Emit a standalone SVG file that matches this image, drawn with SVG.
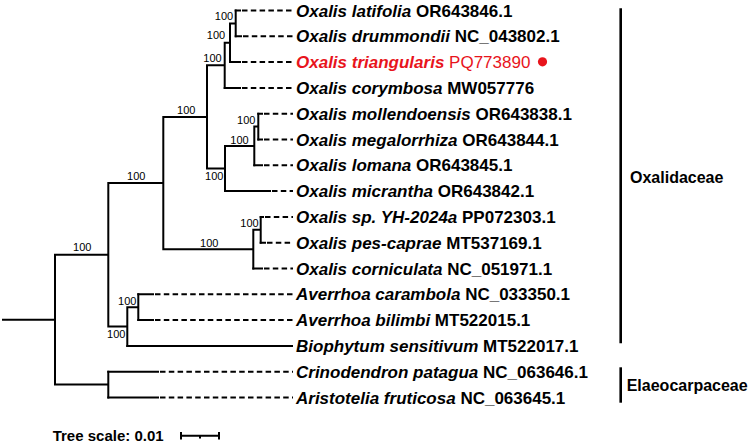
<svg xmlns="http://www.w3.org/2000/svg" width="750" height="443" viewBox="0 0 750 443">
<style>
.br{stroke:#000;stroke-width:2;fill:none;stroke-linecap:square}
.ds{stroke:#000;stroke-width:2;fill:none;stroke-dasharray:5.5 3.3}
.bs{font-family:"Liberation Sans",Arial,sans-serif;font-size:11px;fill:#000;text-anchor:middle}
.lb{font-family:"Liberation Sans",Arial,sans-serif;font-size:17px;font-weight:bold;fill:#000}
.lb .sp{font-style:italic}
.cl{font-family:"Liberation Sans",Arial,sans-serif;font-size:16px;font-weight:bold;fill:#000}
.bar{stroke:#000;stroke-width:2.6}
</style>
<rect width="750" height="443" fill="#fff"/>
<g id="connectors">
<!-- internal nodes verticals and horizontals -->
<path class="br" d="M3,319.7H55 M55,254.8V384.6 M55,254.8H108.3 M55,384.6H108.3
M108.3,183V326.55 M108.3,183H163.3 M108.3,326.55H127.3
M163.3,116.9V249.15 M163.3,116.9H207 M163.3,249.15H253.3
M207,65.3V168.5 M207,65.3H224.7 M207,168.5H225
M224.7,42.75V87.9 M224.7,42.75H230 M230,23.4V62.1 M230,23.4H235.7 M235.7,10.5V36.3
M225,145.95V191.1 M225,145.95H254.3 M254.3,126.6V165.3 M254.3,126.6H258.3 M258.3,113.7V139.5
M253.3,229.8V268.5 M253.3,229.8H260.7 M260.7,216.9V242.7
M127.3,307.2V345.9 M127.3,307.2H138.3 M138.3,294.3V320.1
M108.3,371.7V397.5"/>
<!-- leaf solid parts -->
<path class="br" d="M235.7,10.5H240 M235.7,36.3H241 M230,62.1H240 M224.7,87.9H240
M258.3,113.7H262 M258.3,139.5H262 M254.3,165.3H262 M225,191.1H270
M260.7,216.9H263 M260.7,242.7H265 M253.3,268.5H262
M138.3,294.3H153 M138.3,320.1H153 M127.3,345.9H292 M108.3,371.7H158 M108.3,397.5H158"/>
<!-- dashed extensions -->
<path class="ds" d="M242,10.5H293 M243,36.3H293 M242,62.1H293 M242,87.9H293
M264,113.7H293 M264,139.5H293 M264,165.3H293 M272,191.1H293
M265,216.9H293 M267,242.7H293 M264,268.5H293
M155,294.3H293 M155,320.1H293 M160,371.7H293 M160,397.5H293"/>
</g>
<g id="bootstrap">
<text class="bs" x="224" y="20">100</text>
<text class="bs" x="216" y="38.7">100</text>
<text class="bs" x="212.5" y="62.3">100</text>
<text class="bs" x="186.2" y="114">100</text>
<text class="bs" x="246.3" y="123.5">100</text>
<text class="bs" x="239.5" y="144.3">100</text>
<text class="bs" x="214.2" y="180">100</text>
<text class="bs" x="136.2" y="180">100</text>
<text class="bs" x="249.5" y="227.3">100</text>
<text class="bs" x="209.2" y="247.3">100</text>
<text class="bs" x="82.3" y="251.3">100</text>
<text class="bs" x="127.2" y="305">100</text>
<text class="bs" x="116.2" y="338.3">100</text>
</g>
<g id="leaf-latifolia"><text class="lb" x="296" y="16.5"><tspan class="sp">Oxalis latifolia</tspan> OR643846.1</text></g>
<g id="leaf-drummondii"><text class="lb" x="296" y="42.3"><tspan class="sp">Oxalis drummondii</tspan> NC_043802.1</text></g>
<g id="leaf-triangularis"><text class="lb" x="296" y="68.1" fill="#e8141c" style="fill:#e8141c"><tspan class="sp">Oxalis triangularis</tspan> <tspan font-weight="normal">PQ773890</tspan></text><circle cx="542.5" cy="61.8" r="4.6" fill="#e8141c"/></g>
<g id="leaf-corymbosa"><text class="lb" x="296" y="93.9"><tspan class="sp">Oxalis corymbosa</tspan> MW057776</text></g>
<g id="leaf-mollendoensis"><text class="lb" x="296" y="119.7"><tspan class="sp">Oxalis mollendoensis</tspan> OR643838.1</text></g>
<g id="leaf-megalorrhiza"><text class="lb" x="296" y="145.5"><tspan class="sp">Oxalis megalorrhiza</tspan> OR643844.1</text></g>
<g id="leaf-lomana"><text class="lb" x="296" y="171.3"><tspan class="sp">Oxalis lomana</tspan> OR643845.1</text></g>
<g id="leaf-micrantha"><text class="lb" x="296" y="197.1"><tspan class="sp">Oxalis micrantha</tspan> OR643842.1</text></g>
<g id="leaf-sp"><text class="lb" x="296" y="222.9"><tspan class="sp">Oxalis sp. YH-2024a</tspan> PP072303.1</text></g>
<g id="leaf-pescaprae"><text class="lb" x="296" y="248.7"><tspan class="sp">Oxalis pes-caprae</tspan> MT537169.1</text></g>
<g id="leaf-corniculata"><text class="lb" x="296" y="274.5"><tspan class="sp">Oxalis corniculata</tspan> NC_051971.1</text></g>
<g id="leaf-carambola"><text class="lb" x="296" y="300.3"><tspan class="sp">Averrhoa carambola</tspan> NC_033350.1</text></g>
<g id="leaf-bilimbi"><text class="lb" x="296" y="326.1"><tspan class="sp">Averrhoa bilimbi</tspan> MT522015.1</text></g>
<g id="leaf-biophytum"><text class="lb" x="296" y="351.9"><tspan class="sp">Biophytum sensitivum</tspan> MT522017.1</text></g>
<g id="leaf-crinodendron"><text class="lb" x="296" y="377.7"><tspan class="sp">Crinodendron patagua</tspan> NC_063646.1</text></g>
<g id="leaf-aristotelia"><text class="lb" x="296" y="403.5"><tspan class="sp">Aristotelia fruticosa</tspan> NC_063645.1</text></g>
<g id="clade-oxalidaceae"><line class="bar" x1="620.7" y1="8.3" x2="620.7" y2="343.3"/><text class="cl" x="630" y="182.5">Oxalidaceae</text></g>
<g id="clade-elaeocarpaceae"><line class="bar" x1="620.7" y1="367.3" x2="620.7" y2="402.7"/><text class="cl" x="626.7" y="390.5">Elaeocarpaceae</text></g>
<g id="scale"><text class="cl" x="52.7" y="441" style="font-size:15px">Tree scale: 0.01</text>
<path class="br" style="stroke-linecap:butt" d="M180,435.7H220 M181,432V439.5 M219,432V439.5 M200,435.7V438.5" stroke-width="1.6"/></g>
</svg>
